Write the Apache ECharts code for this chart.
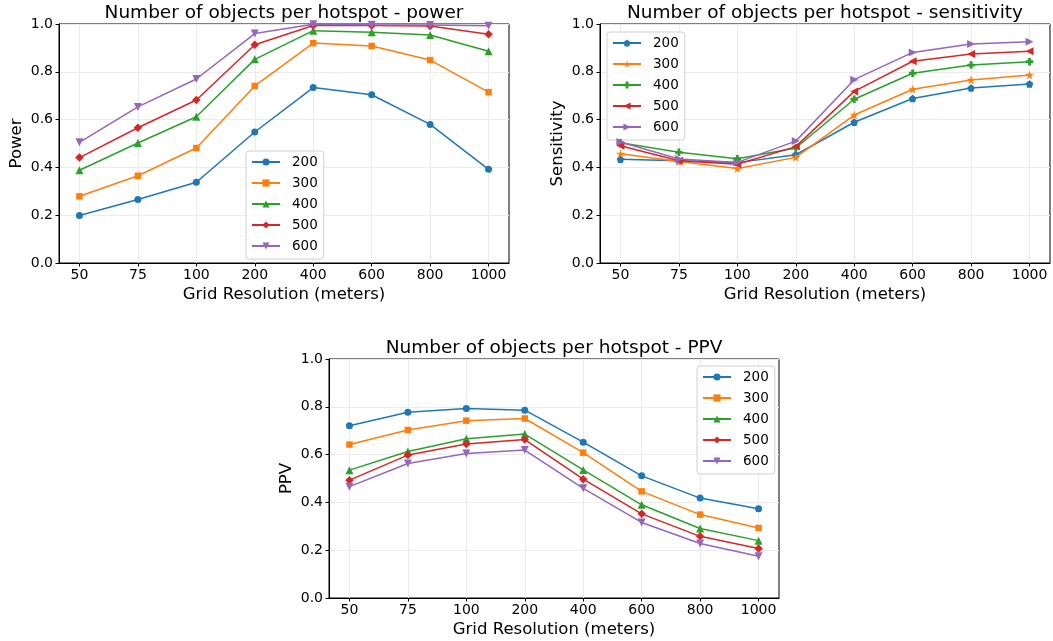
<!DOCTYPE html>
<html>
<head>
<meta charset="utf-8">
<title>Number of objects per hotspot</title>
<script src="https://cdn.jsdelivr.net/npm/echarts@6/dist/echarts.min.js"></script>
<style>
  html, body { margin: 0; padding: 0; background: #fff; }
  #chart { width: 1053px; height: 641px; }
</style>
</head>
<body>
<div id="chart"></div>
<script>
// Grid resolutions (x categories) and objects-per-hotspot groups
const categories = ['50', '75', '100', '200', '400', '600', '800', '1000'];
const groups = ['200', '300', '400', '500', '600'];
const yTicks = [0, 0.2, 0.4, 0.6, 0.8, 1.0];

// Power
const power200 = [0.199, 0.266, 0.338, 0.548, 0.734, 0.704, 0.580, 0.392];
const power300 = [0.279, 0.365, 0.481, 0.741, 0.920, 0.908, 0.849, 0.715];
const power400 = [0.388, 0.502, 0.612, 0.852, 0.972, 0.965, 0.954, 0.886];
const power500 = [0.441, 0.566, 0.682, 0.913, 0.994, 0.994, 0.992, 0.957];
const power600 = [0.505, 0.653, 0.770, 0.960, 0.999, 0.997, 0.996, 0.993];

// Sensitivity
const sens200 = [0.434, 0.428, 0.420, 0.453, 0.589, 0.688, 0.732, 0.749];
const sens300 = [0.457, 0.425, 0.395, 0.442, 0.619, 0.727, 0.766, 0.787];
const sens400 = [0.503, 0.463, 0.436, 0.481, 0.685, 0.794, 0.828, 0.842];
const sens500 = [0.491, 0.428, 0.413, 0.487, 0.718, 0.844, 0.874, 0.886];
const sens600 = [0.506, 0.435, 0.421, 0.510, 0.767, 0.881, 0.916, 0.926];

// Positive predictive value
const ppv200 = [0.721, 0.777, 0.793, 0.786, 0.652, 0.511, 0.418, 0.373];
const ppv300 = [0.642, 0.703, 0.742, 0.751, 0.608, 0.446, 0.349, 0.293];
const ppv400 = [0.535, 0.613, 0.666, 0.686, 0.536, 0.390, 0.291, 0.240];
const ppv500 = [0.493, 0.598, 0.644, 0.663, 0.497, 0.352, 0.258, 0.207];
const ppv600 = [0.466, 0.563, 0.605, 0.619, 0.459, 0.316, 0.228, 0.175];

const colors = ['#1f77b4', '#ff7f0e', '#2ca02c', '#d62728', '#9467bd'];
const FONT = 'DejaVu Sans';

// marker shapes
const PENTAGON = 'path://M0,-1L0.951,-0.309L0.588,0.809L-0.588,0.809L-0.951,-0.309Z';
const STAR = 'path://M0,-1L0.2245,-0.309L0.951,-0.309L0.3633,0.118L0.5878,0.809L0,0.382L-0.5878,0.809L-0.3633,0.118L-0.951,-0.309L-0.2245,-0.309Z';
const PLUS = 'path://M-0.38,-1L0.38,-1L0.38,-0.38L1,-0.38L1,0.38L0.38,0.38L0.38,1L-0.38,1L-0.38,0.38L-1,0.38L-1,-0.38L-0.38,-0.38Z';

const markersA = [
  { symbol: 'circle', size: 7, rotate: 0 },
  { symbol: 'rect', size: 6.5, rotate: 0 },
  { symbol: 'triangle', size: 8, rotate: 0 },
  { symbol: 'diamond', size: 8.5, rotate: 0 },
  { symbol: 'triangle', size: 8, rotate: 180 }
];
const markersB = [
  { symbol: PENTAGON, size: 7.5, rotate: 0 },
  { symbol: STAR, size: 9, rotate: 0 },
  { symbol: PLUS, size: 7.5, rotate: 0 },
  { symbol: 'triangle', size: 8, rotate: 90 },
  { symbol: 'triangle', size: 8, rotate: -90 }
];

const panels = [
  { key: 'power', title: 'Number of objects per hotspot - power', yName: 'Power',
    data: [power200, power300, power400, power500, power600], markers: markersA,
    left: 59, top: 24, legend: { left: 246, top: 151 } },
  { key: 'sensitivity', title: 'Number of objects per hotspot - sensitivity', yName: 'Sensitivity',
    data: [sens200, sens300, sens400, sens500, sens600], markers: markersB,
    left: 600, top: 24, legend: { left: 607, top: 32 } },
  { key: 'PPV', title: 'Number of objects per hotspot - PPV', yName: 'PPV',
    data: [ppv200, ppv300, ppv400, ppv500, ppv600], markers: markersA,
    left: 329, top: 359, legend: { left: 697, top: 366 } }
];
const PW = 450, PH = 239;
const catIdx = categories.map((c, i) => i);

const option = {
  animation: false,
  backgroundColor: '#fff',
  textStyle: { fontFamily: FONT },
  grid: [], xAxis: [], yAxis: [], series: [], legend: [], graphic: []
};

panels.forEach((p, k) => {
  option.grid.push({
    left: p.left, top: p.top, width: PW, height: PH,
    show: true, borderColor: '#000', borderWidth: 1, backgroundColor: 'transparent'
  });
  option.xAxis.push({
    type: 'value', gridIndex: k, min: -0.35, max: 7.35,
    name: 'Grid Resolution (meters)', nameLocation: 'middle', nameGap: 23,
    nameTextStyle: { fontFamily: FONT, fontSize: 16.5, color: '#000' },
    axisLine: { show: true, onZero: false, lineStyle: { color: '#000', width: 1 } },
    axisTick: { show: true, length: 3.5, customValues: catIdx, lineStyle: { color: '#000' } },
    axisLabel: { customValues: catIdx, margin: 5, fontFamily: FONT, fontSize: 14, color: '#000',
      formatter: v => categories[Math.round(v)] },
    splitLine: { show: true, lineStyle: { color: '#ebebeb', width: 1 } }
  });
  option.yAxis.push({
    type: 'value', gridIndex: k, min: 0, max: 1, interval: 0.2,
    name: p.yName, nameLocation: 'middle', nameGap: 34,
    nameTextStyle: { fontFamily: FONT, fontSize: 16.5, color: '#000' },
    axisLine: { show: true, onZero: false, lineStyle: { color: '#000', width: 1 } },
    axisTick: { show: true, length: 3.5, lineStyle: { color: '#000' } },
    axisLabel: { margin: 6, fontFamily: FONT, fontSize: 14, color: '#000',
      formatter: v => v.toFixed(1) },
    splitLine: { show: true, lineStyle: { color: '#ebebeb', width: 1 } }
  });
  groups.forEach((g, i) => {
    const m = p.markers[i];
    option.series.push({
      type: 'line', name: p.key + ' ' + g, xAxisIndex: k, yAxisIndex: k,
      data: p.data[i].map((v, j) => [j, v]),
      symbol: m.symbol, symbolSize: m.size, symbolRotate: m.rotate, showAllSymbol: true,
      lineStyle: { color: colors[i], width: 1.5 },
      itemStyle: { color: colors[i], borderWidth: 0 },
      emphasis: { disabled: true }, silent: true, z: 2 + i
    });
  });
  option.legend.push({
    left: p.legend.left, top: p.legend.top, orient: 'vertical',
    data: groups.map(g => p.key + ' ' + g),
    formatter: n => n.split(' ').pop(),
    itemWidth: 28, itemHeight: 9, itemGap: 7,
    padding: [4, 6, 6, 5],
    backgroundColor: 'rgba(255,255,255,0.8)', borderColor: '#d0d0d0', borderWidth: 1, borderRadius: 3,
    textStyle: { fontFamily: FONT, fontSize: 13.5, color: '#000', padding: [0, 0, 0, 7] },
    selectedMode: false
  });
  option.graphic.push({
    type: 'text', x: p.left + PW / 2, y: p.top - 11,
    style: { text: p.title, fontFamily: FONT, fontSize: 18.5, fill: '#000',
      align: 'center', verticalAlign: 'middle' }
  });
});

const chart = echarts.init(document.getElementById('chart'), null, { renderer: 'canvas' });
chart.setOption(option);
</script>
</body>
</html>
